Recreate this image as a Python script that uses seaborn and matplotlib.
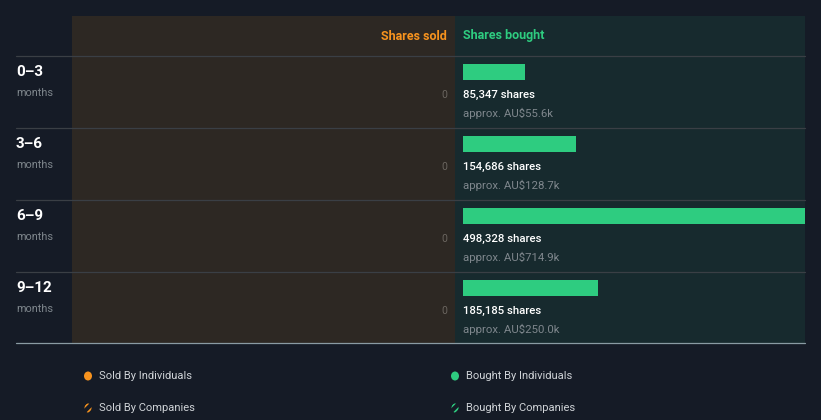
import matplotlib
matplotlib.use("Agg")
import matplotlib.pyplot as plt
import seaborn as sns
import pandas as pd
from matplotlib.patches import Rectangle, Ellipse

# ---- data ----
periods = ["0–3", "3–6", "6–9", "9–12"]
bought_shares = [85347, 154686, 498328, 185185]
bought_value = ["AU$55.6k", "AU$128.7k", "AU$714.9k", "AU$250.0k"]
sold_shares = [0, 0, 0, 0]

# ---- style ----
sns.set_theme(style="dark")
plt.rcParams['font.family'] = ['Roboto', 'DejaVu Sans']
plt.rcParams['hatch.linewidth'] = 1.2

BG = "#151b26"
SOLD_BG = "#2d2823"
BOUGHT_BG = "#172a2e"
GREEN = "#2ecc80"
ORANGE = "#f7931e"
GRID = "#3a3f45"
WHITE = "#ffffff"
GRAY = "#7f878d"
LEG = "#cfd3d7"

W, H = 821, 420
fig = plt.figure(figsize=(W / 100, H / 100), dpi=100, facecolor=BG)

def fx(x):
    return x / W

def fy(y):
    return 1 - y / H

# bought panel axes
top, bottom = 16, 343
ax_b = fig.add_axes([fx(455), fy(bottom), fx(805 - 455), (bottom - top) / H])
ax_b.set_facecolor(BOUGHT_BG)
df = pd.DataFrame({"period": periods, "shares": bought_shares})
sns.barplot(data=df, x="shares", y="period", orient="h", color=GREEN,
            saturation=1, width=16 / 72, linewidth=0, ax=ax_b)
px_per_share = 1 / 1370.0
ax_b.set_xlim(-8 / px_per_share, 342 / px_per_share)
ax_b.set_ylim((bottom - 72) / 72, (top - 72) / 72)
ax_b.set_xlabel("")
ax_b.set_ylabel("")
ax_b.set_xticks([])
ax_b.set_yticks([])
for s in ax_b.spines.values():
    s.set_visible(False)

for i, (n, v) in enumerate(zip(bought_shares, bought_value)):
    ax_b.text(0, i + 23 / 72, f"{n:,} shares", color=WHITE, fontsize=8.2,
              fontweight="medium", va="center", ha="left")
    ax_b.text(0, i + 41 / 72, f"approx. {v}", color=GRAY, fontsize=8.2,
              va="center", ha="left")

# overlay axes in pixel coordinates
ax_bg = fig.add_axes([0, 0, 1, 1])
ax_bg.set_zorder(2)
ax_bg.patch.set_visible(False)
ax_bg.set_xlim(0, W)
ax_bg.set_ylim(H, 0)
ax_bg.axis("off")
ax_bg.add_patch(Rectangle((72, 16), 383, 327, facecolor=SOLD_BG, edgecolor="none", zorder=0))

# sold side: value labels
for i, n in enumerate(sold_shares):
    ax_bg.text(447, 95 + 72 * i, f"{n:,}", color="#6b6660", fontsize=7.5,
               ha="right", va="center")

# headers
ax_bg.text(447, 36, "Shares sold", color=ORANGE, fontsize=9, fontweight="bold",
           ha="right", va="center")
ax_bg.text(463, 36, "Shares bought", color=GREEN, fontsize=9, fontweight="bold",
           ha="left", va="center")

# row labels and separators
for i, p in enumerate(periods):
    y0 = 56 + 72 * i
    ax_bg.plot([16, 805], [y0, y0], color=GRID, lw=0.9, zorder=5)
    ax_bg.text(16, y0 + 16, p, color=WHITE, fontsize=11, fontweight="bold",
               ha="left", va="center")
    ax_bg.text(16, y0 + 37, "months", color=GRAY, fontsize=7.8,
               ha="left", va="center")
ax_bg.plot([16, 805], [343, 343], color="#8a9ba3", lw=0.9, zorder=5)

# legend
legend_items = [
    (88, 376, ORANGE, False, "Sold By Individuals"),
    (455, 376, GREEN, False, "Bought By Individuals"),
    (88, 408, ORANGE, True, "Sold By Companies"),
    (455, 408, GREEN, True, "Bought By Companies"),
]
for x, y, c, hatched, label in legend_items:
    if hatched:
        ax_bg.add_patch(Ellipse((x, y), 7, 9, facecolor=BG, edgecolor=c,
                                hatch="////", lw=0))
    else:
        ax_bg.add_patch(Ellipse((x, y), 8, 9, facecolor=c, edgecolor="none"))
    ax_bg.text(x + 11, y, label, color=LEG, fontsize=8, ha="left", va="center")

fig.savefig("out.png", dpi=100, facecolor=BG)
